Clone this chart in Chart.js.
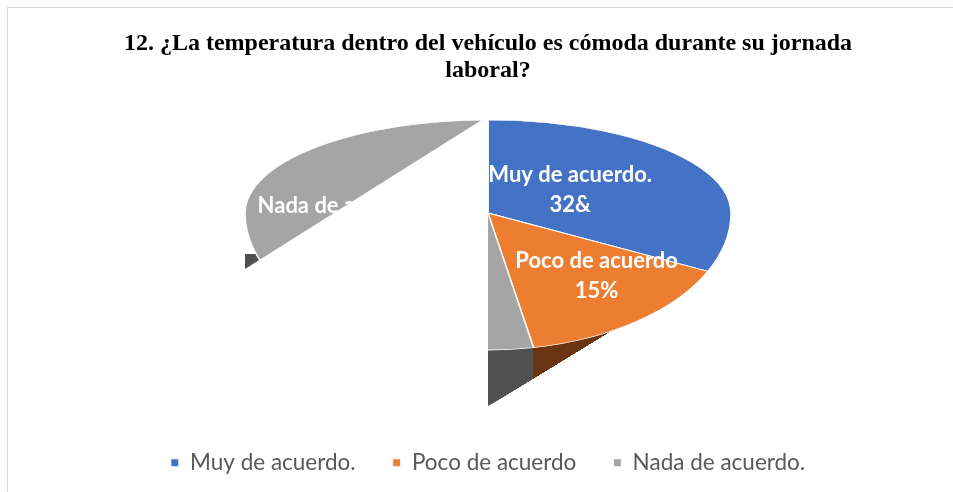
<!DOCTYPE html>
<html>
<head>
<meta charset="utf-8">
<script src="https://cdn.jsdelivr.net/npm/chart.js"></script>
<style>
  html, body { margin: 0; padding: 0; background: #fff; overflow: hidden; }
  #box { position: absolute; left: 7px; top: 7px; width: 960px; height: 500px; border: 1px solid #d9d9d9; background: #fff; }
</style>
</head>
<body>
<div id="box"><canvas id="pieChart" width="960" height="500"></canvas></div>
<script>
const titleLines = ["12. ¿La temperatura dentro del vehículo es cómoda durante su jornada", "laboral?"];
const categories = ["Muy de acuerdo.", "Poco de acuerdo", "Nada de acuerdo."];
const percentages = [32, 15, 53];
const valueLabels = ["32&", "15%", "53%"];

const topColors = ["#4472C4", "#ED7D31", "#A5A5A5"];
const sideColors = ["#2F5597", "#6B3512", "#515151"];

// tilted (excel 3d) look: top face is squashed differently above / below the apex
const tilt = { apexY: 205, rx: 243, ryTop: 93, ryBottom: 137, depth: 56 };
// label spot per slice: fraction of radius and a small turn (degrees) off the middle angle
const labelSpot = [{ f: 0.42, turn: -4 }, { f: 0.64, turn: -6.5 }, { f: 0.6, turn: 0 }];
const maskChord = [160, 268.5]; // degrees, canvas angles of the broken edge

const rad = (d) => (d * Math.PI) / 180;

function project(cx, a, f) {
  const s = Math.sin(a);
  const ry = s < 0 ? tilt.ryTop : tilt.ryBottom;
  return { x: cx + tilt.rx * f * Math.cos(a), y: tilt.apexY + ry * f * s };
}

function withHalf(chart, arc0, top, shift, fn) {
  const ctx = chart.ctx;
  const R = arc0.outerRadius;
  ctx.save();
  ctx.beginPath();
  if (top) ctx.rect(0, -10, chart.width, tilt.apexY + shift + 10.5);
  else ctx.rect(0, tilt.apexY + shift - 0.5, chart.width, chart.height);
  ctx.clip();
  ctx.translate(arc0.x, tilt.apexY + shift);
  ctx.scale(tilt.rx / R, (top ? tilt.ryTop : tilt.ryBottom) / R);
  ctx.translate(-arc0.x, -arc0.y);
  fn(ctx);
  ctx.restore();
}

const pie3d = {
  id: "pie3d",
  beforeDatasetsDraw(chart) {
    const ctx = chart.ctx;
    const arcs = chart.getDatasetMeta(0).data;
    const a0 = arcs[0];
    const cx = a0.x;

    // sides, cut along the line from the front bottom to the end of the first slice
    const front = { x: cx, y: tilt.apexY + tilt.ryBottom + tilt.depth };
    const b = project(cx, a0.endAngle, 1);
    const k = (b.y - front.y) / (b.x - front.x);
    const yCut = tilt.apexY + tilt.ryBottom * 0.3;
    ctx.save();
    ctx.beginPath();
    ctx.moveTo(0, front.y + k * (0 - front.x));
    ctx.lineTo(b.x, b.y);
    ctx.lineTo(b.x, yCut);
    ctx.lineTo(0, yCut);
    ctx.closePath();
    ctx.clip();
    for (let d = tilt.depth; d > 0; d--) {
      withHalf(chart, a0, false, d, (c) => {
        arcs.forEach((a, i) => {
          c.beginPath();
          c.moveTo(a.x, a.y);
          c.arc(a.x, a.y, a.outerRadius, a.startAngle, a.endAngle);
          c.closePath();
          c.fillStyle = sideColors[i];
          c.fill();
        });
      });
    }
    ctx.restore();

    // top faces
    withHalf(chart, a0, true, 0, (c) => arcs.forEach((a) => a.draw(c)));
    withHalf(chart, a0, false, 0, (c) => arcs.forEach((a) => a.draw(c)));

    // data labels
    ctx.save();
    ctx.fillStyle = "#fff";
    ctx.font = "bold 22px Lato";
    ctx.textAlign = "center";
    ctx.textBaseline = "middle";
    arcs.forEach((a, i) => {
      const mid = (a.startAngle + a.endAngle) / 2 + rad(labelSpot[i].turn);
      const p = project(cx, mid, labelSpot[i].f);
      ctx.fillText(categories[i], p.x, p.y - 15);
      ctx.fillText(valueLabels[i], p.x, p.y + 15);
    });

    // the broken part of the last slice
    const p1 = project(cx, rad(maskChord[0]), 1);
    const p2 = project(cx, rad(maskChord[1]), 1);
    const ext = { x: p1.x + (p1.x - p2.x) * 0.3, y: p1.y + (p1.y - p2.y) * 0.3 };
    const yLow = front.y + 12;
    ctx.beginPath();
    ctx.moveTo(cx, tilt.apexY - tilt.ryTop - 12);
    ctx.lineTo(p2.x, p2.y);
    ctx.lineTo(p1.x, p1.y);
    ctx.lineTo(ext.x, ext.y);
    ctx.lineTo(ext.x, yLow);
    ctx.lineTo(cx, yLow);
    ctx.closePath();
    ctx.fill();
    ctx.restore();
    return false;
  },
};

var ctx = document.getElementById("pieChart").getContext("2d");
var myChart = new Chart(ctx, {
  type: "pie",
  data: {
    labels: categories,
    datasets: [
      {
        data: percentages,
        backgroundColor: topColors,
        borderColor: "#ffffff",
        borderWidth: 1,
      },
    ],
  },
  options: {
    responsive: false,
    animation: false,
    layout: { padding: { top: 0, bottom: 24 } },
    plugins: {
      title: {
        display: true,
        text: titleLines,
        color: "#000",
        font: { family: "Liberation Serif", size: 24, weight: "bold", lineHeight: 1.12 },
        padding: { top: 22, bottom: 10 },
      },
      legend: {
        position: "bottom",
        labels: {
          color: "#595959",
          font: { family: "Lato", size: 22.5 },
          boxWidth: 8,
          boxHeight: 8,
          padding: 37,
        },
      },
      tooltip: { enabled: false },
    },
  },
  plugins: [pie3d],
});
</script>
</body>
</html>
